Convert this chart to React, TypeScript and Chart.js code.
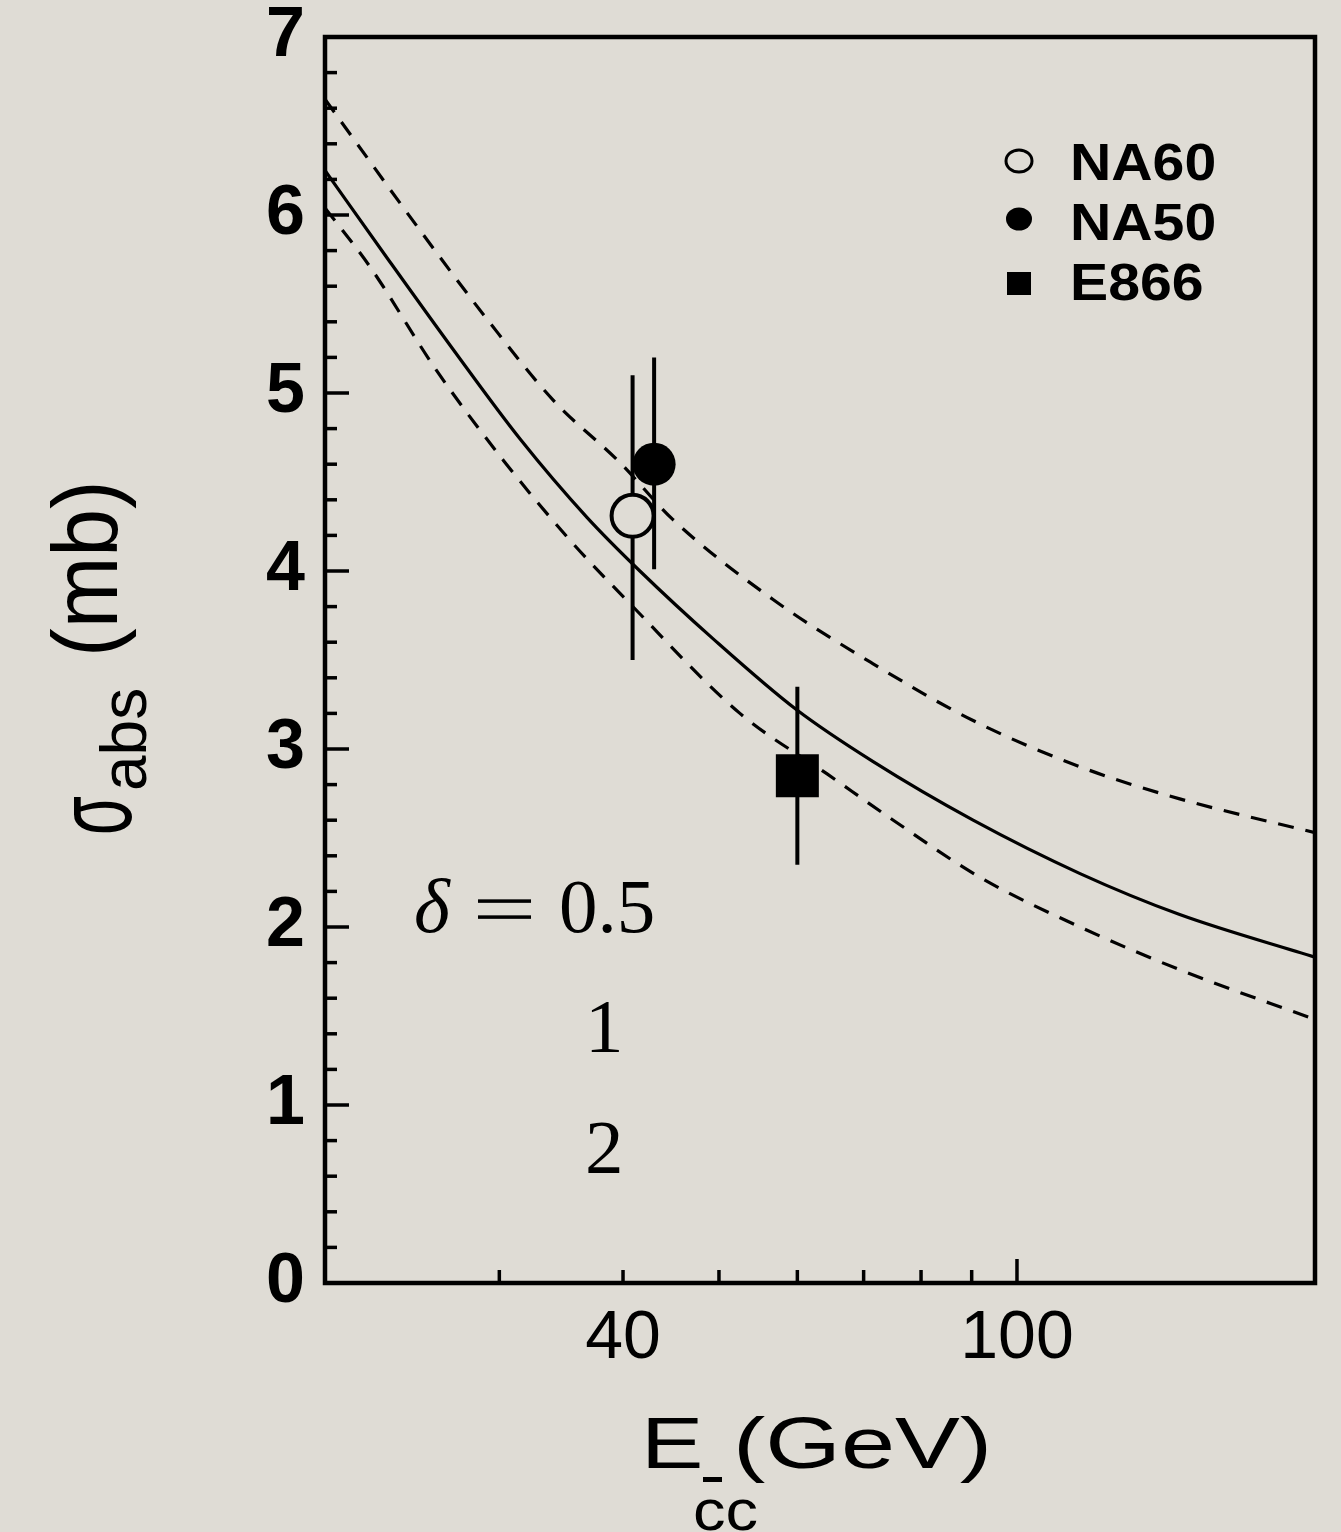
import { useEffect, useRef } from 'react';
import { Chart, registerables } from 'chart.js';

Chart.register(...registerables);

// ---- axis setup ----
const xMin = 20;
const xMax = 200;
const xLabelTicks = [40, 100];
const xMinorTicks = [30, 40, 50, 60, 70, 80, 90];
const xMajorTicks = [100];
const yMin = 0;
const yMax = 7;
const yMinorStep = 0.2;

// ---- model curves: sigma_abs (mb) vs E (GeV) ----
const centralE = [20, 23.1, 26.9, 31.5, 36.8, 41.6, 49.3, 59.9, 71.5, 90.3, 115.8, 146, 200];
const centralSigma = [6.25, 5.76, 5.25, 4.74, 4.3, 4.0, 3.62, 3.22, 2.93, 2.6, 2.3, 2.07, 1.83];

const upperE = [20, 24.9, 29.2, 34.0, 39.7, 44.9, 56.7, 71.5, 90.3, 115.8, 146, 200];
const upperSigma = [6.65, 5.92, 5.41, 4.96, 4.61, 4.29, 3.84, 3.48, 3.16, 2.9, 2.72, 2.53];

const lowerE = [20, 22.2, 25.9, 30.3, 35.4, 40.6, 52.5, 64.3, 75.0, 91.7, 115.8, 146, 200];
const lowerSigma = [6.04, 5.71, 5.13, 4.62, 4.17, 3.82, 3.2, 2.86, 2.6, 2.28, 2.0, 1.76, 1.48];

// ---- measurements ----
const expNames = ['NA60', 'NA50', 'E866'];
const expE = [40.9, 43.0, 60.0];
const expSigma = [4.31, 4.6, 2.85];
const expErrLow = [3.5, 4.01, 2.35];
const expErrHigh = [5.1, 5.2, 3.35];

// ---- curve annotations ----
const deltaLabels = ['1', '2'];

const BG = '#dfdcd5';
const INK = '#000000';
const SANS = '"Liberation Sans", Arial, Helvetica, sans-serif';
const SERIF = '"Liberation Serif", "Times New Roman", serif';

const toXY = (xs: number[], ys: number[]) => xs.map((x, i) => ({ x, y: ys[i] }));

const decorations = {
  id: 'decorations',
  beforeDraw(chart: any) {
    const { ctx, width, height } = chart;
    ctx.save();
    ctx.fillStyle = BG;
    ctx.fillRect(0, 0, width, height);
    ctx.restore();
  },
  beforeDatasetsDraw(chart: any) {
    const { ctx, scales } = chart;
    const xs = scales.x;
    const ys = scales.y;
    ctx.save();
    ctx.strokeStyle = INK;
    ctx.lineWidth = 4;
    ctx.lineCap = 'butt';
    expE.forEach((e, i) => {
      const px = xs.getPixelForValue(e);
      ctx.beginPath();
      ctx.moveTo(px, ys.getPixelForValue(expErrLow[i]));
      ctx.lineTo(px, ys.getPixelForValue(expErrHigh[i]));
      ctx.stroke();
    });
    ctx.restore();
  },
  afterDraw(chart: any) {
    const { ctx, chartArea, scales } = chart;
    const { left, right, top, bottom } = chartArea;
    const xs = scales.x;
    const ys = scales.y;
    ctx.save();
    ctx.strokeStyle = INK;
    ctx.fillStyle = INK;

    // frame
    ctx.lineWidth = 4.5;
    ctx.strokeRect(left, top, right - left, bottom - top);

    // inward ticks on the left axis
    ctx.lineWidth = 3.5;
    const nY = Math.round((yMax - yMin) / yMinorStep);
    for (let k = 0; k <= nY; k++) {
      const v = yMin + k * yMinorStep;
      const py = ys.getPixelForValue(v);
      const major = Math.abs(v - Math.round(v)) < 1e-6;
      ctx.beginPath();
      ctx.moveTo(left, py);
      ctx.lineTo(left + (major ? 24 : 12), py);
      ctx.stroke();
    }
    // inward ticks on the bottom axis
    const drawXTick = (v: number, len: number) => {
      const px = xs.getPixelForValue(v);
      ctx.beginPath();
      ctx.moveTo(px, bottom);
      ctx.lineTo(px, bottom - len);
      ctx.stroke();
    };
    xMinorTicks.forEach((v) => drawXTick(v, 13));
    xMajorTicks.forEach((v) => drawXTick(v, 24));

    // x-axis title: E_{c c-bar} (GeV)
    ctx.textAlign = 'left';
    ctx.textBaseline = 'alphabetic';
    ctx.save();
    ctx.translate(641, 1468);
    ctx.scale(1.3, 1);
    ctx.font = `72px ${SANS}`;
    ctx.fillText('E', 0, 0);
    ctx.restore();
    ctx.save();
    ctx.translate(733, 1468);
    ctx.scale(1.35, 1);
    ctx.font = `72px ${SANS}`;
    ctx.fillText('(GeV)', 0, 0);
    ctx.restore();
    ctx.save();
    ctx.translate(693, 1530);
    ctx.scale(1.12, 1);
    ctx.font = `58px ${SANS}`;
    ctx.fillText('cc', 0, 0);
    ctx.restore();
    ctx.fillRect(703, 1477, 19, 5);

    // y-axis title: sigma_abs (mb), rotated
    ctx.save();
    ctx.translate(131, 835);
    ctx.rotate(-Math.PI / 2);
    ctx.save();
    ctx.scale(0.72, 1.22);
    ctx.font = `88px ${SANS}`;
    ctx.fillText('σ', 0, 0);
    ctx.restore();
    ctx.font = `64px ${SANS}`;
    ctx.fillText('abs', 44, 15);
    ctx.save();
    ctx.translate(178, -14);
    ctx.scale(1, 1.08);
    ctx.font = `86px ${SANS}`;
    ctx.fillText('(mb)', 0, 0);
    ctx.restore();
    ctx.restore();

    // legend
    const legendRows = [161, 219, 284];
    const legendBase = [180, 240, 300];
    ctx.lineWidth = 3;
    ctx.beginPath();
    ctx.ellipse(1019, legendRows[0], 13, 11, 0, 0, Math.PI * 2);
    ctx.stroke();
    ctx.beginPath();
    ctx.ellipse(1019, legendRows[1], 13, 11.5, 0, 0, Math.PI * 2);
    ctx.fill();
    ctx.fillRect(1007, legendRows[2] - 12, 24, 23);
    expNames.forEach((name, i) => {
      ctx.save();
      ctx.translate(1070, legendBase[i]);
      ctx.scale(1.1, 1);
      ctx.font = `bold 52px ${SANS}`;
      ctx.fillText(name, 0, 0);
      ctx.restore();
    });

    // delta annotations
    const ax = xs.getPixelForValue(24.6);
    const ay = ys.getPixelForValue(1.97);
    ctx.font = `italic 77px ${SERIF}`;
    ctx.fillText('δ', ax, ay);
    // '=' sign as two bars
    ctx.fillRect(ax + 64, ay - 33, 53, 3.5);
    ctx.fillRect(ax + 64, ay - 17, 53, 3.5);
    ctx.font = `77px ${SERIF}`;
    ctx.textAlign = 'left';
    ctx.fillText('0.5', ax + 145, ay);
    ctx.textAlign = 'center';
    const cx = xs.getPixelForValue(38.3);
    ctx.fillText(deltaLabels[0], cx, ys.getPixelForValue(1.3));
    ctx.fillText(deltaLabels[1], cx, ys.getPixelForValue(0.62));

    ctx.restore();
  },
};

export default function App() {
  const canvasRef = useRef<HTMLCanvasElement | null>(null);

  useEffect(() => {
    if (!canvasRef.current) return;
    const lineBase = {
      type: 'line' as const,
      pointRadius: 0,
      borderColor: INK,
      borderWidth: 3.2,
      fill: false,
      cubicInterpolationMode: 'monotone' as const,
      order: 2,
    };
    const chart = new Chart(canvasRef.current, {
      type: 'scatter',
      data: {
        datasets: [
          {
            label: expNames[0],
            data: [{ x: expE[0], y: expSigma[0] }],
            pointStyle: 'circle',
            pointRadius: 21,
            pointBackgroundColor: BG,
            pointBorderColor: INK,
            pointBorderWidth: 4,
            order: 0,
          },
          {
            label: expNames[1],
            data: [{ x: expE[1], y: expSigma[1] }],
            pointStyle: 'circle',
            pointRadius: 21.5,
            pointBackgroundColor: INK,
            pointBorderWidth: 0,
            order: 0,
          },
          {
            label: expNames[2],
            data: [{ x: expE[2], y: expSigma[2] }],
            pointStyle: 'rect',
            pointRadius: 30.4,
            pointBackgroundColor: INK,
            pointBorderWidth: 0,
            order: 0,
          },
          { ...lineBase, label: 'central', data: toXY(centralE, centralSigma) },
          { ...lineBase, label: 'upper', data: toXY(upperE, upperSigma), borderDash: [16, 12] },
          { ...lineBase, label: 'lower', data: toXY(lowerE, lowerSigma), borderDash: [16, 12] },
        ] as any,
      },
      options: {
        responsive: false,
        animation: false,
        layout: { autoPadding: false, padding: { top: 37, right: 26, left: 0, bottom: 0 } },
        plugins: { legend: { display: false }, tooltip: { enabled: false } },
        scales: {
          x: {
            type: 'logarithmic',
            position: 'bottom',
            min: xMin,
            max: xMax,
            grid: { display: false, drawTicks: false },
            border: { display: false },
            ticks: {
              color: INK,
              font: { family: SANS, size: 68 },
              padding: 15,
              maxRotation: 0,
              autoSkip: false,
              callback: (v: any) => String(v),
            },
            afterBuildTicks: (s: any) => {
              s.ticks = xLabelTicks.map((value) => ({ value }));
            },
            afterFit: (s: any) => {
              s.height = 249;
              s.paddingLeft = 0;
              s.paddingRight = 0;
            },
          },
          y: {
            type: 'linear',
            min: yMin,
            max: yMax,
            grid: { display: false, drawTicks: false },
            border: { display: false },
            ticks: {
              stepSize: 1,
              color: INK,
              font: { family: SANS, size: 70, weight: 'bold' },
              padding: 20,
            },
            afterFit: (s: any) => {
              s.width = 325;
              s.paddingTop = 0;
              s.paddingBottom = 0;
            },
          },
        },
      },
      plugins: [decorations],
    });
    return () => chart.destroy();
  }, []);

  return (
    <div style={{ position: 'absolute', left: 0, top: 0, width: 1341, height: 1532, background: BG }}>
      <canvas ref={canvasRef} width={1341} height={1532} />
    </div>
  );
}
